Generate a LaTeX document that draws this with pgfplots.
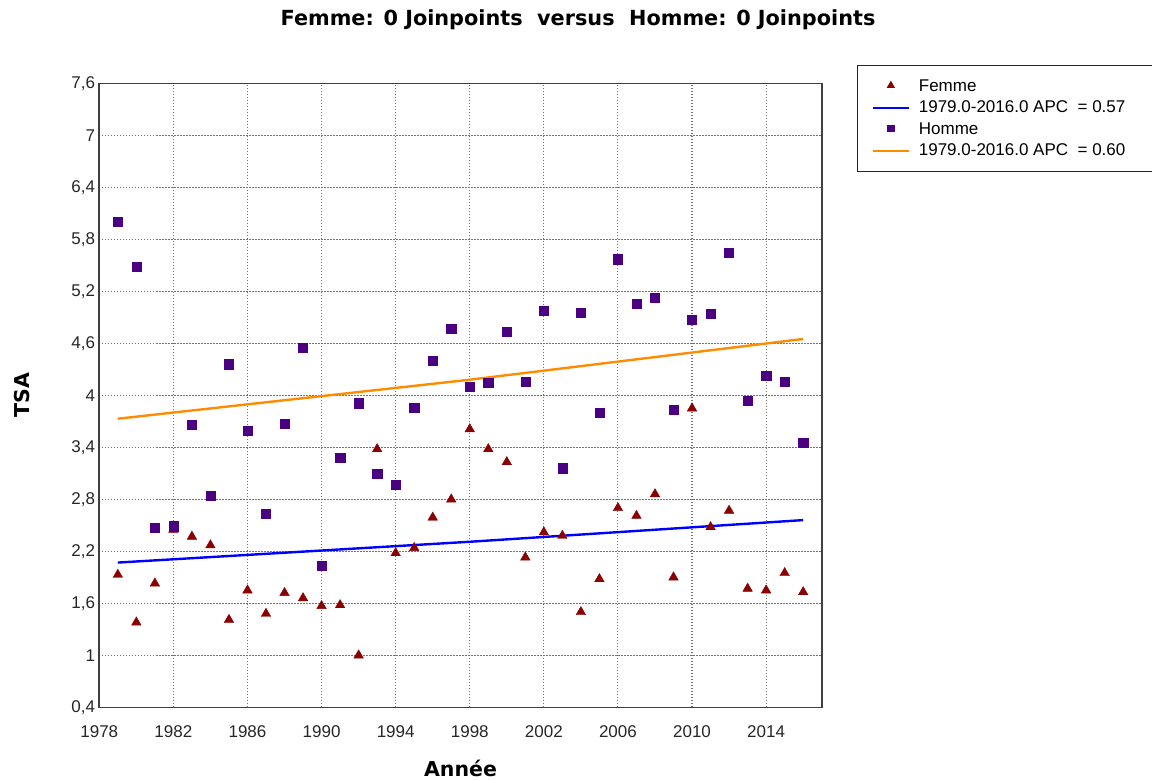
\documentclass[border=0pt]{standalone}
\usepackage{pgfplots}
\pgfplotsset{compat=1.18}
\usepackage{pgfplotstable}
\usepackage{fontspec}
\setmainfont{Liberation Sans}
\newfontfamily\titlefont{DejaVu Sans}
\definecolor{femmec}{RGB}{139,0,0}
\definecolor{hommec}{RGB}{75,0,130}
\definecolor{trendf}{RGB}{0,0,255}
\definecolor{trendh}{RGB}{255,140,0}
\newcommand\lent[1]{\makebox[270pt][l]{#1}}

\pgfplotstableread{
year tsa
1979 1.93
1980 1.38
1981 1.83
1982 2.45
1983 2.37
1984 2.27
1985 1.41
1986 1.75
1987 1.48
1988 1.72
1989 1.66
1990 1.57
1991 1.58
1992 1.00
1993 3.38
1994 2.18
1995 2.24
1996 2.59
1997 2.80
1998 3.61
1999 3.38
2000 3.23
2001 2.13
2002 2.42
2003 2.38
2004 1.50
2005 1.88
2006 2.70
2007 2.61
2008 2.86
2009 1.90
2010 3.85
2011 2.48
2012 2.67
2013 1.77
2014 1.75
2015 1.95
2016 1.73
}\femme

\pgfplotstableread{
year tsa
1979 6.00
1980 5.48
1981 2.47
1982 2.49
1983 3.66
1984 2.84
1985 4.36
1986 3.59
1987 2.63
1988 3.67
1989 4.55
1990 2.03
1991 3.28
1992 3.91
1993 3.10
1994 2.97
1995 3.86
1996 4.40
1997 4.77
1998 4.10
1999 4.15
2000 4.73
2001 4.16
2002 4.98
2003 3.16
2004 4.95
2005 3.80
2006 5.57
2007 5.06
2008 5.13
2009 3.83
2010 4.87
2011 4.94
2012 5.65
2013 3.94
2014 4.23
2015 4.16
2016 3.45
}\homme

\begin{document}
\begin{tikzpicture}
\path[use as bounding box] (0,0) rectangle (1152pt,780pt);
\begin{axis}[
  at={(99.3pt,72.7pt)}, anchor=south west,
  scale only axis, width=722.4pt, height=624pt,
  xmin=1978, xmax=2017, ymin=0.4, ymax=7.6,
  xtick={1978,1982,...,2014},
  ytick={0.4,1,1.6,2.2,2.8,3.4,4,4.6,5.2,5.8,6.4,7,7.6},
  grid=major,
  major grid style={draw=black!55, dash pattern=on 1.2pt off 1.8pt, line width=1.1pt},
  major tick length=0pt,
  axis line style={draw=black!75, line width=1.6pt},
  /pgf/number format/.cd, use comma, 1000 sep={}, assume math mode=true,
  /pgfplots/.cd,
  tick label style={font=\fontsize{17}{20}\selectfont, text=black!85},
  x tick label style={anchor=north, inner sep=0pt, yshift=-18pt},
  y tick label style={anchor=east, inner sep=0pt, xshift=-4pt},
  title={Femme: 0 Joinpoints\ \ versus\ \ Homme: 0 Joinpoints},
  title style={at={(0.6627,1.0838)}, anchor=base, font=\titlefont\bfseries\fontsize{20.8}{24}\selectfont},
  xlabel={Année},
  xlabel style={at={(0.5,-0.1101)}, anchor=base, font=\titlefont\bfseries\fontsize{20.5}{24}\selectfont},
  ylabel={TSA},
  ylabel style={at={(-0.1063,0.5)}, anchor=center, font=\titlefont\bfseries\fontsize{20.5}{24}\selectfont},
  legend style={at={(1.0489,1.0293)}, anchor=north west, draw=black!85, line width=1.3pt,
    font=\fontsize{17}{20}\selectfont, inner xsep=14pt, inner ysep=10pt,
    nodes={text height=12.5pt, text depth=3pt, inner sep=3pt}},
  legend cell align=left,
]
\addplot[only marks, mark=triangle*, mark size=5.5pt, color=femmec,
  legend image code/.code={\path[draw=none,fill=none] (0pt,0pt) rectangle (43pt,0.1pt); \path[draw=femmec,fill=femmec] plot[mark=triangle*, mark size=3.5pt] coordinates {(18pt,1pt)};}]
  table[x=year, y=tsa] {\femme};
\addlegendentry{\lent{Femme}}
\addplot[trendf, line width=2.4pt,
  legend image code/.code={\path[draw=none,fill=none] (0pt,0pt) rectangle (43pt,0.1pt); \draw[trendf, line width=2.4pt] (0pt,0pt) -- (36pt,0pt);}]
  coordinates {(1979,2.07) (1998,2.31) (2016,2.56)};
\addlegendentry{\lent{1979.0-2016.0 APC \ = 0.57}}
\addplot[only marks, mark=square*, mark size=4.6pt, color=hommec,
  legend image code/.code={\path[draw=none,fill=none] (0pt,0pt) rectangle (43pt,0.1pt); \path[draw=hommec,fill=hommec] plot[mark=square*, mark size=3pt] coordinates {(18pt,1pt)};}]
  table[x=year, y=tsa] {\homme};
\addlegendentry{\lent{Homme}}
\addplot[trendh, line width=2.4pt,
  legend image code/.code={\path[draw=none,fill=none] (0pt,0pt) rectangle (43pt,0.1pt); \draw[trendh, line width=2.4pt] (0pt,0pt) -- (36pt,0pt);}]
  coordinates {(1979,3.73) (1998,4.18) (2016,4.65)};
\addlegendentry{\lent{1979.0-2016.0 APC \ = 0.60}}
\end{axis}
\end{tikzpicture}
\end{document}
